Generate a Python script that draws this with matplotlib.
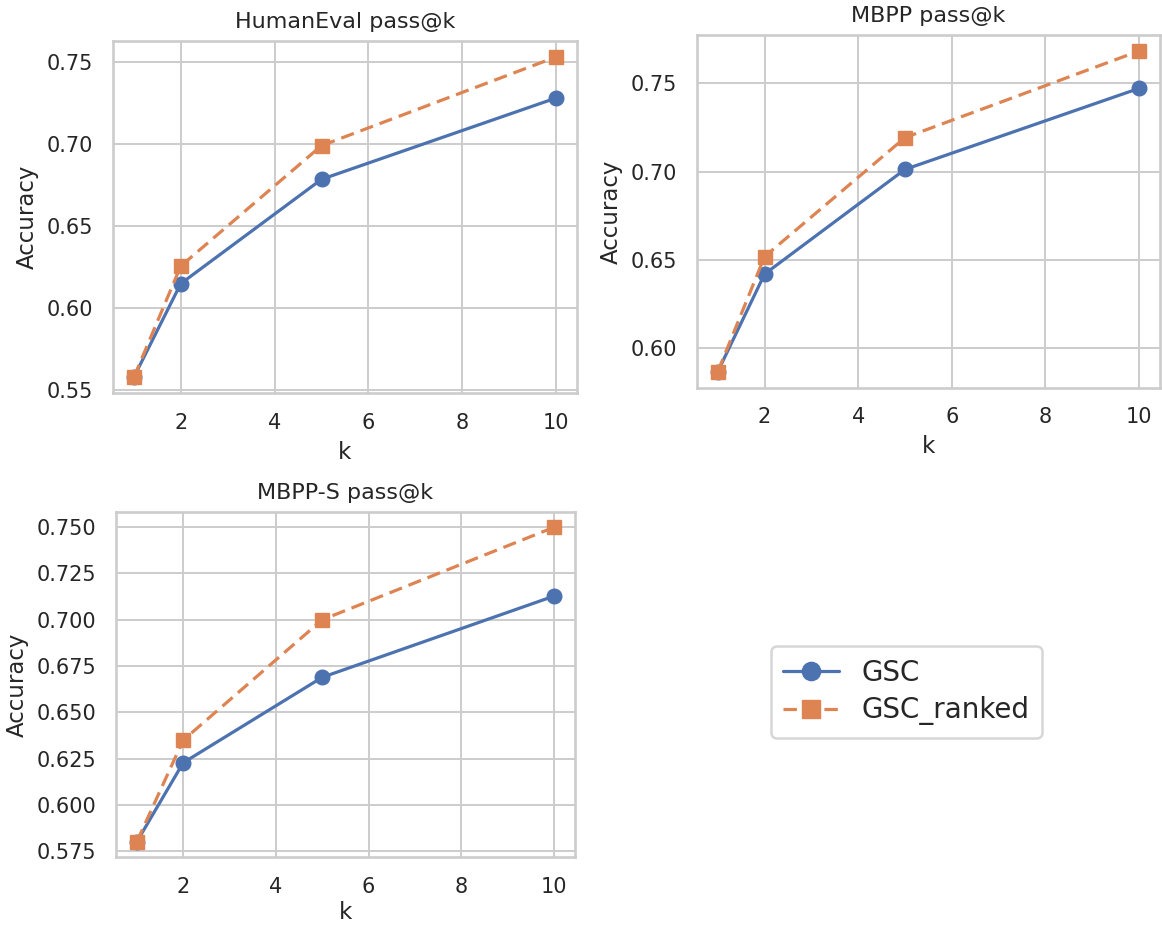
import matplotlib
matplotlib.use("Agg")
import matplotlib.pyplot as plt
import seaborn as sns
from matplotlib.ticker import MultipleLocator, FormatStrFormatter

k_values = [1, 2, 5, 10]

humaneval_gsc = [0.558, 0.615, 0.6785, 0.728]
humaneval_ranked = [0.558, 0.6257, 0.699, 0.753]

mbpp_gsc = [0.5867, 0.642, 0.7013, 0.7472]
mbpp_ranked = [0.5867, 0.6519, 0.7193, 0.7684]

mbpps_gsc = [0.580, 0.6227, 0.6689, 0.7128]
mbpps_ranked = [0.580, 0.6349, 0.700, 0.750]

titles = ["HumanEval pass@k", "MBPP pass@k", "MBPP-S pass@k"]
series_labels = ["GSC", "GSC_ranked"]

sns.set_theme(style="whitegrid")
plt.rcParams["font.family"] = ["DejaVu Sans"]
plt.rcParams["axes.edgecolor"] = "#cccccc"
plt.rcParams["grid.color"] = "#cccccc"

blue = "#4C72B0"
orange = "#DD8452"

fig = plt.figure(figsize=(11.62, 9.25), dpi=100)

# axes rectangles [left, bottom, width, height] in figure fractions
rects = [
    [0.0970, 0.5748, 0.3998, 0.3810],
    [0.5996, 0.5809, 0.3987, 0.3813],
    [0.0998, 0.0730, 0.3950, 0.3740],
]
xlabel_pads = [6, 6, 3]
data = [
    (humaneval_gsc, humaneval_ranked, 0.05, "%.2f"),
    (mbpp_gsc, mbpp_ranked, 0.05, "%.2f"),
    (mbpps_gsc, mbpps_ranked, 0.025, "%.3f"),
]

handles = None
for rect, title, lp, (g, r, step, fmt) in zip(rects, titles, xlabel_pads, data):
    ax = fig.add_axes(rect)
    h1, = ax.plot(k_values, g, color=blue, linestyle="-", marker="o",
                  linewidth=2.3, markersize=10.5, label=series_labels[0])
    h2, = ax.plot(k_values, r, color=orange, linestyle="--", marker="s",
                  linewidth=2.3, markersize=10, label=series_labels[1],
                  dashes=(4.2, 2.2))
    handles = [h1, h2]
    ax.set_title(title, fontsize=16, color=".15", pad=9)
    ax.set_xlabel("k", fontsize=16.5, color=".15", labelpad=lp)
    ax.set_ylabel("Accuracy", fontsize=16.5, color=".15", labelpad=6)
    ax.xaxis.set_major_locator(MultipleLocator(2))
    ax.yaxis.set_major_locator(MultipleLocator(step))
    ax.yaxis.set_major_formatter(FormatStrFormatter(fmt))
    ax.tick_params(labelsize=15, colors=".15", pad=8)
    ax.grid(True, color="#cccccc", linewidth=1.4)
    for s in ax.spines.values():
        s.set_color("#cccccc")
        s.set_linewidth(1.9)

leg = fig.legend(handles, series_labels, loc="center",
                 bbox_to_anchor=(0.780, 0.252), fontsize=20,
                 markerscale=1.25, frameon=True, fancybox=True,
                 borderpad=0.45, labelspacing=0.35, handletextpad=0.8)
leg.get_frame().set_edgecolor("#cccccc")
leg.get_frame().set_linewidth(1.8)
for t in leg.get_texts():
    t.set_color(".15")

fig.savefig("out.png", dpi=100)
